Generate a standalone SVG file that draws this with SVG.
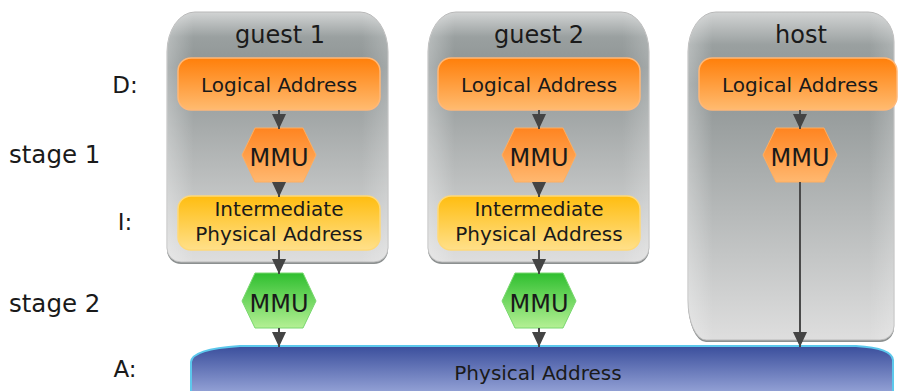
<svg xmlns="http://www.w3.org/2000/svg" width="898" height="391" viewBox="0 0 898 391">
<style>
text{font-family:"DejaVu Sans","Liberation Sans",sans-serif;fill:#1a1a1a}
.lbl{font-size:23px}
.stg{font-size:24.5px}
.title{font-size:24px;text-anchor:middle}
.box{font-size:20px;text-anchor:middle}
.mmu{font-size:24px;text-anchor:middle}
.conn{stroke:#4a4a4a;stroke-width:2;fill:none;marker-end:url(#arr)}
.cont{fill:url(#gCont);stroke:#b8b8b8;stroke-width:1}
.contShadow{fill:#8c9090}
.gloss{fill:url(#gGloss)}
.la{fill:url(#gOrange);stroke:#ffb878;stroke-width:1.5}
.ipa{fill:url(#gYellow);stroke:#ffd978;stroke-width:1.5}
.hexO{fill:url(#gHexO);stroke:#ffae60;stroke-width:1}
.hexG{fill:url(#gHexG);stroke:#7ad870;stroke-width:1}
</style>
<defs>
<linearGradient id="gCont" x1="0" y1="0" x2="0" y2="1">
<stop offset="0" stop-color="#d2d4d4"/>
<stop offset="0.1" stop-color="#9aa0a0"/>
<stop offset="0.22" stop-color="#8e9494"/>
<stop offset="1" stop-color="#dedede"/>
</linearGradient>
<linearGradient id="gGloss" x1="0" y1="0" x2="1" y2="0">
<stop offset="0" stop-color="#ffffff" stop-opacity="0.3"/>
<stop offset="0.12" stop-color="#ffffff" stop-opacity="0"/>
<stop offset="0.88" stop-color="#ffffff" stop-opacity="0"/>
<stop offset="1" stop-color="#ffffff" stop-opacity="0.2"/>
</linearGradient>
<linearGradient id="gOrange" x1="0" y1="0" x2="0" y2="1">
<stop offset="0" stop-color="#ff7f0a"/>
<stop offset="1" stop-color="#ffbb70"/>
</linearGradient>
<linearGradient id="gYellow" x1="0" y1="0" x2="0" y2="1">
<stop offset="0" stop-color="#ffbd10"/>
<stop offset="1" stop-color="#ffe08a"/>
</linearGradient>
<linearGradient id="gHexO" x1="0" y1="0" x2="0" y2="1">
<stop offset="0" stop-color="#ff8420"/>
<stop offset="1" stop-color="#ffb870"/>
</linearGradient>
<linearGradient id="gHexG" x1="0" y1="0" x2="0" y2="1">
<stop offset="0" stop-color="#2fbf2f"/>
<stop offset="1" stop-color="#b4f094"/>
</linearGradient>
<linearGradient id="gBlue" x1="0" y1="0" x2="0" y2="1">
<stop offset="0" stop-color="#3a4e9c"/>
<stop offset="1" stop-color="#94a2d6"/>
</linearGradient>
<marker id="arr" markerUnits="userSpaceOnUse" markerWidth="16" markerHeight="14" refX="15" refY="7" orient="auto">
<path d="M0,0 L15,7 L0,14 Z" fill="#444"/>
</marker>
</defs>

<g id="labels">
<text class="lbl" x="125" y="93" text-anchor="middle">D:</text>
<text class="stg" x="9" y="163">stage 1</text>
<text class="lbl" x="125" y="230" text-anchor="middle">I:</text>
<text class="stg" x="9" y="312">stage 2</text>
<text class="lbl" x="125" y="377" text-anchor="middle">A:</text>
</g>

<g id="guest1">
<path class="contShadow" d="M195,14 L360,14 A28,40 0 0 1 388,54 L388,250 A14,14 0 0 1 374,264 L181,264 A14,14 0 0 1 167,250 L167,54 A28,40 0 0 1 195,14 Z"/>
<path class="cont" d="M195,12 L360,12 A28,40 0 0 1 388,52 L388,248 A14,14 0 0 1 374,262 L181,262 A14,14 0 0 1 167,248 L167,52 A28,40 0 0 1 195,12 Z"/>
<path class="gloss" d="M195,12 L360,12 A28,40 0 0 1 388,52 L388,248 A14,14 0 0 1 374,262 L181,262 A14,14 0 0 1 167,248 L167,52 A28,40 0 0 1 195,12 Z"/>
<text class="title" x="280" y="43">guest 1</text>
</g>
<g id="guest2">
<path class="contShadow" d="M456,14 L621,14 A28,40 0 0 1 649,54 L649,250 A14,14 0 0 1 635,264 L442,264 A14,14 0 0 1 428,250 L428,54 A28,40 0 0 1 456,14 Z"/>
<path class="cont" d="M456,12 L621,12 A28,40 0 0 1 649,52 L649,248 A14,14 0 0 1 635,262 L442,262 A14,14 0 0 1 428,248 L428,52 A28,40 0 0 1 456,12 Z"/>
<path class="gloss" d="M456,12 L621,12 A28,40 0 0 1 649,52 L649,248 A14,14 0 0 1 635,262 L442,262 A14,14 0 0 1 428,248 L428,52 A28,40 0 0 1 456,12 Z"/>
<text class="title" x="539" y="43">guest 2</text>
</g>
<g id="host">
<path class="contShadow" d="M716,14 L868,14 A26,30 0 0 1 894,44 L894,328 A14,14 0 0 1 880,342 L706,342 A18,40 0 0 1 688,302 L688,54 A28,40 0 0 1 716,14 Z"/>
<path class="cont" d="M716,12 L868,12 A26,30 0 0 1 894,42 L894,326 A14,14 0 0 1 880,340 L706,340 A18,40 0 0 1 688,300 L688,52 A28,40 0 0 1 716,12 Z"/>
<path class="gloss" d="M716,12 L868,12 A26,30 0 0 1 894,42 L894,326 A14,14 0 0 1 880,340 L706,340 A18,40 0 0 1 688,300 L688,52 A28,40 0 0 1 716,12 Z"/>
<text class="title" x="801" y="43">host</text>
</g>

<g id="la1"><rect class="la" x="178" y="58" width="202" height="52" rx="13"/><text class="box" x="279" y="92">Logical Address</text></g>
<g id="la2"><rect class="la" x="438" y="58" width="202" height="52" rx="13"/><text class="box" x="539" y="92">Logical Address</text></g>
<g id="la3"><rect class="la" x="699" y="58" width="198" height="52" rx="13"/><text class="box" x="800" y="92">Logical Address</text></g>

<g id="mmu1a"><polygon class="hexO" points="242,155 255,128 303,128 316,155 303,182 255,182"/><text class="mmu" x="279" y="166">MMU</text></g>
<g id="mmu2a"><polygon class="hexO" points="502,155 515,128 563,128 576,155 563,182 515,182"/><text class="mmu" x="539" y="166">MMU</text></g>
<g id="mmu3a"><polygon class="hexO" points="763,155 776,128 824,128 837,155 824,182 776,182"/><text class="mmu" x="800" y="166">MMU</text></g>

<g id="ipa1"><rect class="ipa" x="178" y="196" width="202" height="54" rx="13"/><text class="box" x="279" y="216">Intermediate</text><text class="box" x="279" y="241">Physical Address</text></g>
<g id="ipa2"><rect class="ipa" x="438" y="196" width="202" height="54" rx="13"/><text class="box" x="539" y="216">Intermediate</text><text class="box" x="539" y="241">Physical Address</text></g>

<g id="mmu1b"><polygon class="hexG" points="242,301 255,273 303,273 316,301 303,328 255,328"/><text class="mmu" x="279" y="312">MMU</text></g>
<g id="mmu2b"><polygon class="hexG" points="502,301 515,273 563,273 576,301 563,328 515,328"/><text class="mmu" x="539" y="312">MMU</text></g>

<g id="pa">
<path d="M191,393 L191,362 Q192,349 240,346 L856,346 Q892,348 893,360 L893,393 Z" fill="url(#gBlue)" stroke="#5cc8ec" stroke-width="2"/>
<text class="box" x="538" y="380">Physical Address</text>
</g>

<g id="connectors">
<line class="conn" x1="279" y1="110" x2="279" y2="129"/>
<line class="conn" x1="279" y1="182" x2="279" y2="197"/>
<line class="conn" x1="279" y1="250" x2="279" y2="274"/>
<line class="conn" x1="279" y1="328" x2="279" y2="347"/>
<line class="conn" x1="539" y1="110" x2="539" y2="129"/>
<line class="conn" x1="539" y1="182" x2="539" y2="197"/>
<line class="conn" x1="539" y1="250" x2="539" y2="274"/>
<line class="conn" x1="539" y1="328" x2="539" y2="347"/>
<line class="conn" x1="800" y1="110" x2="800" y2="129"/>
<line class="conn" x1="800" y1="182" x2="800" y2="347"/>
</g>
</svg>
